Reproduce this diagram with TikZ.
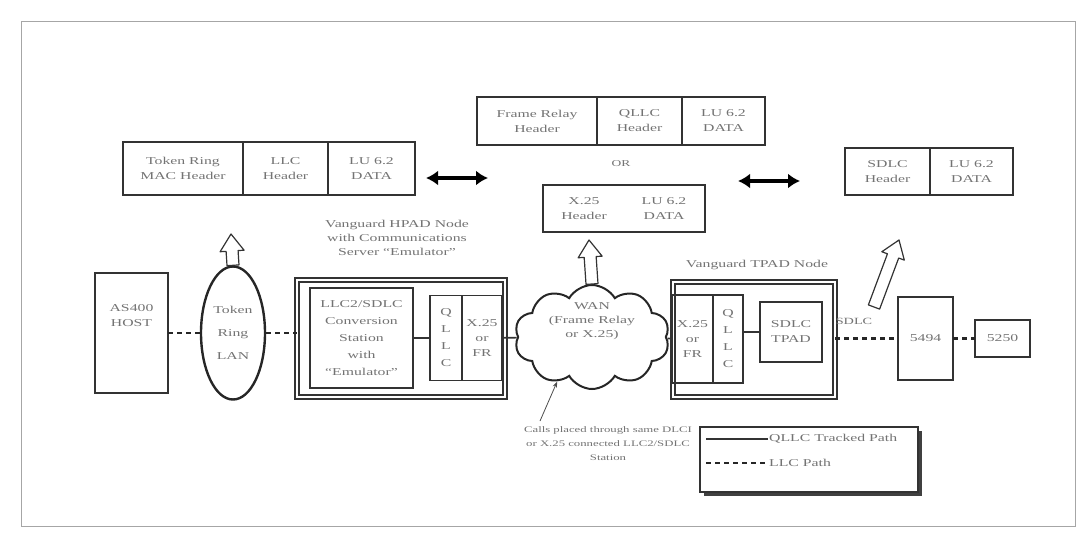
\documentclass[tikz,border=0pt]{standalone}
\usepackage{fontspec}
\setmainfont{Liberation Serif}[FakeStretch=1.5]
\usepackage{tikz}
\usetikzlibrary{positioning,calc,arrows.meta,shapes.geometric,shapes.symbols,shadows}

% hollow block arrow from #1 (tail) to #2 (tip)
\newcommand{\blockarrow}[2]{%
  \coordinate (ba-m) at ($(#2)!17pt!(#1)$);
  \draw[blockarr] ($(#1)!6pt!90:(#2)$) -- ($(ba-m)!6pt!90:(#2)$)
    -- ($(ba-m)!12pt!90:(#2)$) -- (#2) -- ($(ba-m)!12pt!-90:(#2)$)
    -- ($(ba-m)!6pt!-90:(#2)$) -- ($(#1)!6pt!-90:(#2)$) -- cycle;}

\begin{document}
\begin{tikzpicture}[x=1pt,y=-1pt,
    every node/.style={text=black!55,font=\fontsize{10.5}{15}\selectfont},
    cell/.style={draw=black!80,line width=1.8pt,outer sep=0pt,inner sep=1pt,align=center},
    plainbox/.style={draw=black!80,line width=1.6pt,outer sep=0pt,inner sep=1pt,align=center},
    padnode/.style={draw=black!80,line width=1.6pt,double=white,double distance=2.5pt,outer sep=0pt},
    boxtext/.style={align=center,inner sep=1pt},
    link/.style={draw=black!80,line width=1.6pt},
    lanpath/.style={draw=black!85,line width=2.6pt,dash pattern=on 5pt off 4pt},
    bothways/.style={draw=black,line width=4pt,{Latex[length=12pt,width=15pt]}-{Latex[length=12pt,width=15pt]}},
    blockarr/.style={draw=black!80,line width=1.2pt,fill=white,line join=round},
    callout/.style={draw=black!70,line width=0.8pt,-{Stealth[length=6pt]}}]
  \useasboundingbox (0,0) rectangle (1083,543);
  \draw[black!35,line width=1pt] (21,22) rectangle (1075,526);

  % frame formats
  \node[cell,minimum width=120pt,minimum height=53pt,anchor=north west] (trmac) at (123,142) {Token Ring\\MAC Header};
  \node[cell,minimum width=85pt,minimum height=53pt,right=0pt of trmac] (trllc) {LLC\\Header};
  \node[cell,minimum width=87pt,minimum height=53pt,right=0pt of trllc] (trdata) {LU 6.2\\DATA};

  \node[cell,minimum width=120pt,minimum height=48pt,anchor=north west] (frhdr) at (477,97) {Frame Relay\\Header};
  \node[cell,minimum width=85pt,minimum height=48pt,right=0pt of frhdr] (frqllc) {QLLC\\Header};
  \node[cell,minimum width=83pt,minimum height=48pt,right=0pt of frqllc] (frdata) {LU 6.2\\DATA};
  \node[boxtext,font=\fontsize{9}{11}\selectfont] (ortext) at (621,164) {OR};

  \node[cell,minimum width=162pt,minimum height=47pt,anchor=north west] (xhdr) at (543,185) {};
  \node[boxtext] (xhdrtext) at ([xshift=-40pt]xhdr.center) {X.25\\Header};
  \node[boxtext] (xdatatext) at ([xshift=40pt]xhdr.center) {LU 6.2\\DATA};

  \node[cell,minimum width=85pt,minimum height=47pt,anchor=north west] (sdlchdr) at (845,148) {SDLC\\Header};
  \node[cell,minimum width=83pt,minimum height=47pt,right=0pt of sdlchdr] (sdlcdata) {LU 6.2\\DATA};

  \coordinate (trarrowL) at (426,178);
  \coordinate (trarrowR) at (488,178);
  \coordinate (sdarrowL) at (738,181);
  \coordinate (sdarrowR) at (800,181);

  % host side
  \node[plainbox,minimum width=73pt,minimum height=120pt] (host) at (131.5,333) {};
  \node[boxtext,anchor=north] (hostlbl) at ([yshift=-30pt]host.north) {AS400\\HOST};
  \node[draw=black!85,line width=2.4pt,ellipse,minimum width=64pt,minimum height=133pt,
        inner sep=0pt,align=center] (lan) at (233,333) {Token\\[8pt]Ring\\[8pt]LAN};

  \node[padnode,minimum width=208pt,minimum height=117pt] (hpad) at (401,338.5) {};
  \node[boxtext,font=\fontsize{10.5}{14}\selectfont] (hpadtitle) at (397,238)
       {Vanguard HPAD Node\\with Communications\\Server ``Emulator''};
  \node[plainbox,line width=1.3pt,minimum width=103pt,minimum height=100pt,
        font=\fontsize{10.5}{17}\selectfont] (conv) at (361.5,338)
       {LLC2/SDLC\\Conversion\\Station\\with\\``Emulator''};
  \node[plainbox,minimum width=32pt,minimum height=85pt,font=\fontsize{10.5}{17}\selectfont] (hqllc) at (446,338) {Q\\L\\L\\C};
  \node[plainbox,minimum width=40pt,minimum height=85pt,right=0pt of hqllc] (hx25) {X.25\\or\\FR};

  % network
  \node[cloud,cloud puffs=10,cloud puff arc=120,aspect=1.5,draw=black!85,line width=2pt,
        minimum width=155pt,minimum height=104pt,inner sep=0pt] (wan) at (592,337) {};
  \node[boxtext,font=\fontsize{10.5}{14}\selectfont] (wantext) at ([yshift=16pt]wan.center) {WAN\\(Frame Relay\\or X.25)};

  % terminal side
  \node[padnode,minimum width=162pt,minimum height=115pt] (tpad) at (754,339.5) {};
  \node[boxtext] (tpadtitle) at (757,265) {Vanguard TPAD Node};
  \node[plainbox,minimum width=41pt,minimum height=88pt] (tx25) at (692.5,339) {X.25\\or\\FR};
  \node[plainbox,minimum width=30pt,minimum height=88pt,right=0pt of tx25,font=\fontsize{10.5}{17}\selectfont] (tqllc) {Q\\L\\L\\C};
  \node[plainbox,minimum width=62pt,minimum height=60pt] (sdlctpad) at (791,332) {SDLC\\TPAD};
  \node[plainbox,minimum width=55pt,minimum height=83pt] (ctrl) at (925.5,338.5) {5494};
  \node[plainbox,minimum width=55pt,minimum height=37pt] (term) at (1002.5,338.5) {5250};
  \node[boxtext,font=\fontsize{9.5}{12}\selectfont] (sdlclbl) at (854,321) {SDLC};

  \path
    (host) edge[lanpath] (lan)
    (lan) edge[lanpath] (lan -| hpad.west)
    (conv) edge[link] (hqllc)
    (hx25) edge[link] (wan)
    (wan) edge[link] (tx25)
    (tqllc.east |- sdlctpad) edge[link] (sdlctpad)
    (tpad.east |- ctrl) edge[lanpath] (ctrl)
    (ctrl) edge[lanpath] (term);

  \draw[bothways] (trarrowL) -- (trarrowR);
  \draw[bothways] (sdarrowL) -- (sdarrowR);

  \coordinate (lanup) at (231,234);
  \blockarrow{lan.north}{lanup}
  \coordinate (wanup) at (589,240);
  \blockarrow{wan.north}{wanup}
  \coordinate (sdlcfoot) at (874,307);
  \coordinate (sdlcup) at (899,240);
  \blockarrow{sdlcfoot}{sdlcup}

  % call note
  \node[boxtext,font=\fontsize{8.5}{14}\selectfont] (calls) at (608,444)
       {Calls placed through same DLCI\\or X.25 connected LLC2/SDLC\\Station};
  \coordinate (callfoot) at (540,421);
  \draw[callout] (callfoot) -- (wan.232);

  % legend
  \node[draw=black!80,line width=1.2pt,fill=white,minimum width=218pt,minimum height=65pt,outer sep=0pt,
        drop shadow={shadow xshift=4pt,shadow yshift=-4pt,fill=black!75,opacity=1}] (legend) at (809,459.5) {};
  \node[boxtext,anchor=west] (qtext) at (768,439) {QLLC Tracked Path};
  \node[boxtext,anchor=west] (ltext) at (768,463) {LLC Path};
  \coordinate (qstart) at (706,439);
  \coordinate (lstart) at (706,463);
  \path
    (qstart) edge[link] (qtext.west)
    (lstart) edge[lanpath] (ltext.west);
\end{tikzpicture}
\end{document}
